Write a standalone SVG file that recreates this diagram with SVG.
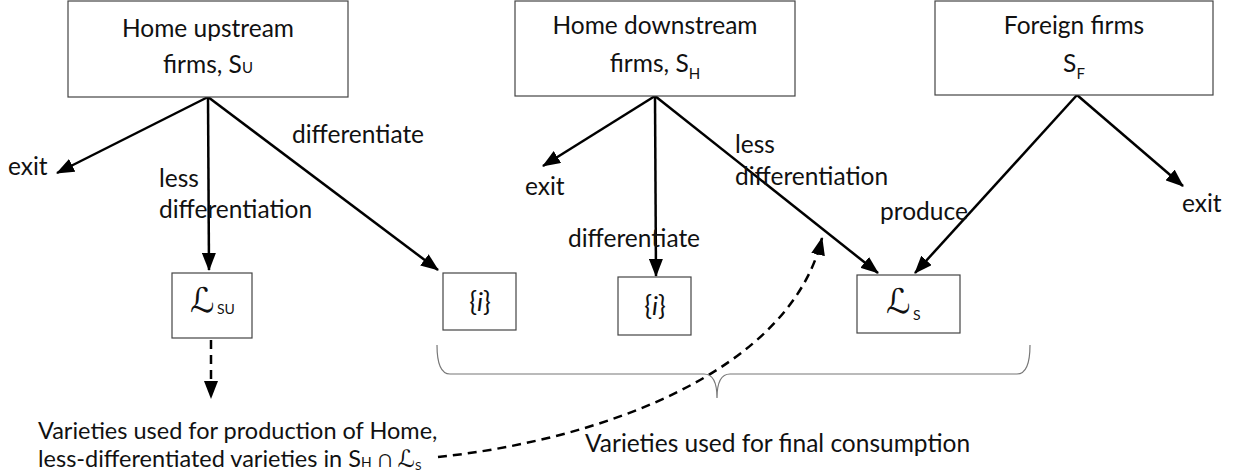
<svg xmlns="http://www.w3.org/2000/svg" width="1240" height="474" viewBox="0 0 1240 474">
<style>
.box{fill:#fff;stroke:#444;stroke-width:1.2}
.t{font-family:Lato,"Open Sans",sans-serif;font-size:24.5px;fill:#111}
.c{text-anchor:middle}
.sub{font-size:15px}
.scr{font-family:"DejaVu Serif","DejaVu Sans",serif;font-style:italic}
.arr{stroke:#000;stroke-width:2.5;fill:none;marker-end:url(#ah)}
.dash{stroke:#000;stroke-width:2.5;fill:none;stroke-dasharray:9 6;marker-end:url(#ah)}
.brace{stroke:#777;stroke-width:1.2;fill:none}
</style>
<defs>
<marker id="ah" viewBox="0 0 18 14" refX="17" refY="7" markerWidth="18" markerHeight="14" orient="auto" markerUnits="userSpaceOnUse">
<path d="M0,0 L18,7 L0,14 z" fill="#000"/>
</marker>
</defs>
<rect width="1240" height="474" fill="#fff"/>
<g id="connectors">
<line class="arr" x1="208" y1="97" x2="57" y2="173"/>
<line class="arr" x1="208" y1="97" x2="209" y2="270"/>
<line class="arr" x1="208" y1="97" x2="438" y2="270"/>
<line class="arr" x1="655" y1="96" x2="543" y2="166"/>
<line class="arr" x1="655" y1="96" x2="656" y2="276"/>
<line class="arr" x1="655" y1="96" x2="878" y2="273"/>
<line class="arr" x1="1077" y1="95" x2="915" y2="273"/>
<line class="arr" x1="1077" y1="95" x2="1183" y2="186"/>
<line class="dash" x1="211" y1="340" x2="211" y2="398"/>
<path class="dash" d="M438,457 C600,440 790,372 822,238"/>
<path class="brace" d="M437,345 Q437,374 450,374 L704,374 Q717,374 717,398 Q717,374 730,374 L1017,374 Q1030,374 1030,345"/>
</g>
<g id="upstream">
<rect class="box" x="68" y="1" width="280" height="96"/>
<text class="t c" x="208" y="37">Home upstream</text>
<text class="t c" x="208" y="73">firms, S<tspan class="sub">U</tspan></text>
</g>
<g id="downstream">
<rect class="box" x="515" y="1" width="280" height="95"/>
<text class="t c" x="655" y="34">Home downstream</text>
<text class="t c" x="655" y="72">firms, S<tspan class="sub" dy="7">H</tspan></text>
</g>
<g id="foreign">
<rect class="box" x="935" y="1" width="278" height="94"/>
<text class="t c" x="1074" y="34">Foreign firms</text>
<text class="t c" x="1074" y="72">S<tspan class="sub" dy="7">F</tspan></text>
</g>
<g id="labels">
<text class="t" x="8" y="175">exit</text>
<text class="t" x="159" y="187">less</text>
<text class="t" x="159" y="218">differentiation</text>
<text class="t" x="292" y="143">differentiate</text>
<text class="t" x="525" y="195">exit</text>
<text class="t" x="568" y="247">differentiate</text>
<text class="t" x="735" y="153">less</text>
<text class="t" x="735" y="185">differentiation</text>
<text class="t" x="880" y="220">produce</text>
<text class="t" x="1182" y="212">exit</text>
</g>
<g id="Lsu">
<rect class="box" x="172" y="273" width="80" height="65"/>
<text class="t scr" x="190" y="312" style="font-size:34px">ℒ</text>
<text class="t" x="217" y="314" style="font-size:14px">SU</text>
</g>
<g id="i1">
<rect class="box" x="443" y="273" width="73" height="57"/>
<text class="t c" x="480" y="311" style="font-size:26px">{<tspan font-style="italic">i</tspan>}</text>
</g>
<g id="i2">
<rect class="box" x="618" y="277" width="73" height="58"/>
<text class="t c" x="655" y="315" style="font-size:26px">{<tspan font-style="italic">i</tspan>}</text>
</g>
<g id="Ls">
<rect class="box" x="857" y="275" width="103" height="58"/>
<text class="t scr" x="886" y="313" style="font-size:34px">ℒ</text>
<text class="t" x="913" y="320" style="font-size:14px">S</text>
</g>
<g id="notes">
<text class="t" x="38" y="439" style="font-size:23.5px">Varieties used for production of Home,</text>
<text class="t" x="38" y="467" style="font-size:23.5px">less-differentiated varieties in S<tspan style="font-size:14px">H</tspan> ∩ <tspan class="scr" style="font-size:24px">ℒ</tspan><tspan style="font-size:12px" dy="3">S</tspan></text>
<text class="t" x="585" y="452">Varieties used for final consumption</text>
</g>
</svg>
